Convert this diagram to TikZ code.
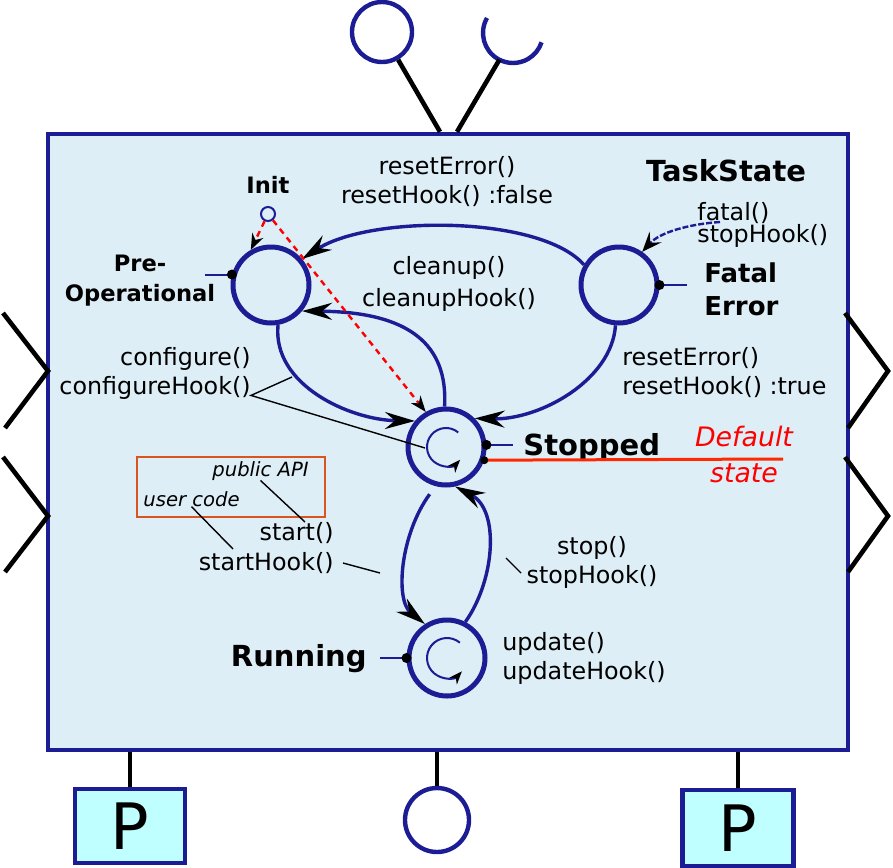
\documentclass[tikz,border=0pt]{standalone}
\usepackage{fontspec}
\setmainfont{DejaVu Sans}
\usepackage{tikz}
\usetikzlibrary{arrows.meta}
\definecolor{navy}{RGB}{28,28,148}
\definecolor{boxblue}{RGB}{221,238,246}
\definecolor{portcyan}{RGB}{191,255,255}
\definecolor{apiorange}{RGB}{217,84,30}
\definecolor{defred}{RGB}{255,40,0}

\begin{document}
\begin{tikzpicture}[x=0.5pt,y=0.5pt,
		state/.style={circle,draw=navy,line width=2.5pt,minimum size=38pt,inner sep=0pt},
		trans/.style={navy,line width=1.7pt,-{Stealth[length=15pt,width=8.5pt,inset=5pt,color=black]}},
		initline/.style={red,line width=1.2pt,dash pattern=on 3pt off 2.5pt,-{Stealth[length=8pt,width=6pt,inset=2.5pt,color=black]}},
		selfloop/.style={navy,line width=1pt,-{Stealth[length=6.5pt,width=5pt,inset=2pt,color=black]}},
		stub/.style={navy,line width=1pt},
		note/.style={black,line width=0.7pt},
		lbl/.style={inner sep=0pt,font=\fontsize{11.9}{14.5}\selectfont},
		bold/.style={inner sep=0pt,font=\fontsize{14.5}{17}\selectfont\bfseries},
		wire/.style={black,line width=2.3pt},
		port/.style={circle,draw=navy,line width=2.2pt,inner sep=0pt,minimum size=#1},
		pbox/.style={draw=navy,fill=portcyan,line width=2.2pt,inner sep=0pt,font=\fontsize{32}{32}\selectfont}]

	\useasboundingbox (0,0) rectangle (893,-867);

	% component
	\node[draw=navy,fill=boxblue,line width=2.2pt,minimum width=400pt,minimum height=308pt,inner sep=0pt] (task) at (448,-442) {};

	% ports on top
	\node[port=30pt] (req) at (382,-32) {};
	\draw[wire] (req) -- ([xshift=-4pt]task.north);
	\coordinate (sock) at (513,-33);
	\draw[navy,line width=2.2pt] ([shift={(150:30)}]sock) arc[start angle=150,end angle=342,radius=30];
	\draw[wire] ([shift={(243:30)}]sock) -- ([xshift=4.5pt]task.north);

	% side ports
	\draw[wire] (3,-313) -- (48,-371) -- (5,-428);
	\draw[wire] (3,-457) -- (48,-516) -- (5,-572);
	\draw[wire] (845,-313) -- (888,-371) -- (848,-428);
	\draw[wire] (845,-457) -- (888,-516) -- (848,-572);

	% ports below
	\node[pbox,minimum width=55pt,minimum height=37pt] (pl) at (130,-826) {P};
	\node[pbox,minimum width=55.5pt,minimum height=38pt] (pr) at (738,-828) {P};
	\node[port=32pt] (prov) at (437,-820) {};
	\draw[wire,line width=2pt] (pl) -- (pl |- task.south);
	\draw[wire,line width=2pt] (pr) -- (pr |- task.south);
	\draw[wire,line width=2pt] (prov) -- (prov |- task.south);

	% states
	\node[state] (pre) at (271,-285) {};
	\node[state] (fatal) at (619,-285) {};
	\node[state] (stop) at (446,-447) {};
	\node[state] (run) at (447,-658) {};
	\node[circle,draw=navy,line width=1pt,minimum size=7pt,inner sep=0pt] (init) at (268,-214) {};

	\node[inner sep=0pt,font=\fontsize{11.3}{15}\selectfont\bfseries,anchor=base] (initlbl) at (268,-193) {Init};
	\node[inner sep=0pt,font=\fontsize{11.3}{15}\selectfont\bfseries,align=center] (prelbl) at (140,-281) {Pre-\\Operational};
	\node[inner sep=0pt,font=\fontsize{13}{16.5}\selectfont\bfseries,align=left,anchor=west] (fatallbl) at (704,-289) {Fatal\\Error};
	\node[bold,anchor=base west] (stoplbl) at (523,-455) {Stopped};
	\node[bold,anchor=base east] (runlbl) at (367,-666) {Running};
	\node[bold] (title) at (726,-171) {TaskState};

	% stubs and dots
	\draw[stub] (pre.165) -- ++(-27,0);
	\fill (pre.165) circle[radius=5];
	\draw[stub] (fatal.0) -- ++(27,0);
	\fill (fatal.0) circle[radius=5];
	\draw[stub] (stop.3) -- ++(27,0);
	\fill (stop.3) circle[radius=5];
	\draw[stub] (run.180) -- ++(-27,0);
	\fill (run.180) circle[radius=5];
	\coordinate (dfltend) at (783,-459);
	\draw[defred,line width=1.5pt] (stop.-19) -- (dfltend);
	\fill (stop.-19) circle[radius=4];

	% transitions
	\draw[trans] (fatal.150) .. controls (540,-215) and (370,-215) .. (pre.40);
	\draw[trans] (stop.92) .. controls (448,-345) and (410,-312) .. (pre.-40);
	\draw[trans] (pre.-80) .. controls (272,-385) and (350,-420) .. (stop.140);
	\draw[trans] (fatal.-95) .. controls (612,-380) and (540,-420) .. (stop.45);
	\draw[trans,shorten <=5pt] (stop.-105) .. controls (400,-535) and (395,-600) .. (run.123);
	\draw[trans] (run.63) .. controls (495,-580) and (500,-510) .. (stop.-77);
	\draw[initline] (init) -- (pre.120);
	\draw[initline] (init) -- (stop.120);
	\coordinate (fatalin) at (720,-222);
	\draw[navy,line width=1.2pt,dash pattern=on 3pt off 1pt,-{Stealth[length=10pt,width=8pt,inset=4pt,color=black]}] (fatalin) .. controls (690,-224) and (660,-232) .. (fatal.55);
	\draw[selfloop] ([shift={(50:19)}]stop.center) arc[start angle=50,end angle=318,radius=19];
	\draw[selfloop] ([shift={(50:20)}]run.center) arc[start angle=50,end angle=318,radius=20];

	% transition labels
	\node[lbl,align=center] (rf) at (447,-182) {resetError()\\resetHook() :false};
	\node[lbl,align=center,font=\fontsize{11.9}{16}\selectfont] (cu) at (449,-284) {cleanup()\\cleanupHook()};
	\node[lbl,align=right,anchor=east] (cf) at (251,-373) {configure()\\configureHook()};
	\node[lbl,align=left,anchor=west] (rt) at (622,-373) {resetError()\\resetHook() :true};
	\node[lbl,align=left,anchor=west,font=\fontsize{11.9}{11}\selectfont] (ft) at (697,-225) {fatal()\\stopHook()};
	\node[lbl,align=right,anchor=east,font=\fontsize{11.9}{15}\selectfont] (st) at (334,-548) {start()\\startHook()};
	\node[lbl,align=center] (sp) at (592,-562) {stop()\\stopHook()};
	\node[lbl,align=left,anchor=west] (up) at (502,-658) {update()\\updateHook()};
	\node[inner sep=0pt,text=red,font=\fontsize{13.4}{18}\selectfont\itshape,align=center] (dflt) at (744,-455) {Default\\state};

	% legend
	\node[draw=apiorange,line width=1.2pt,minimum width=94pt,minimum height=30pt,inner sep=0pt] (api) at (231,-487) {};
	\node[inner sep=0pt,font=\fontsize{9.8}{12}\selectfont\itshape,anchor=base west] (pub) at (212,-476) {public API};
	\node[inner sep=0pt,font=\fontsize{9.8}{12}\selectfont\itshape,anchor=base west] (usr) at (143,-506) {user code};

	% notes
	\coordinate (cfc) at (292,-377);
	\coordinate (cfl) at (425,-448);
	\draw[note] (cfc) -- ([yshift=2pt]cf.south east) -- (cfl);
	\draw[note] (pub.south) -- ([xshift=-14.5pt]st.north east);
	\coordinate (hookpt) at (233,-549);
	\draw[note] (usr.south) -- (hookpt);
	\coordinate (sh1) at (343,-563);
	\coordinate (sh2) at (380,-573);
	\draw[note] (sh1) -- (sh2);
	\coordinate (sp1) at (506,-558);
	\coordinate (sp2) at (521,-573);
	\draw[note] (sp1) -- (sp2);
\end{tikzpicture}
\end{document}
